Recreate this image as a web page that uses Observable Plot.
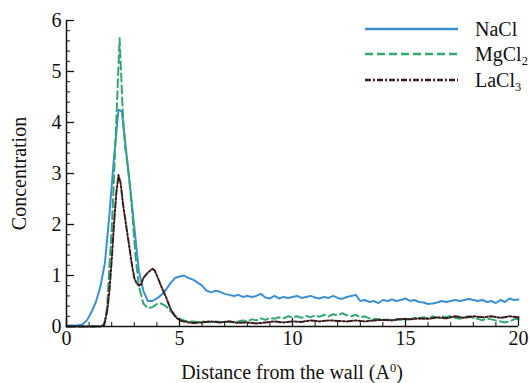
<!DOCTYPE html>
<html>
<head>
<meta charset="utf-8">
<script src="https://cdn.jsdelivr.net/npm/d3@7"></script>
<script src="https://cdn.jsdelivr.net/npm/@observablehq/plot@0.6"></script>
<style>
  body { margin: 0; background: #fff; font-family: "Liberation Serif", "Times New Roman", serif; color: #111; }
  #wrap { position: relative; width: 529px; height: 383px; overflow: hidden; }
  #xtitle { margin-left: 66px; width: 452px; text-align: center; font-size: 20px; line-height: 24px; margin-top: 8px; }
  #xtitle sup { font-size: 0.62em; vertical-align: 0.55em; line-height: 0; }
  #legend { position: absolute; left: 365px; top: 16px; font-size: 20px; }
  .row { display: flex; align-items: center; height: 25.5px; }
  .row span { margin-left: 17px; line-height: 20px; }
  .row sub { font-size: 0.62em; vertical-align: -0.3em; line-height: 0; }
</style>
</head>
<body>
<div id="wrap"></div>
<script>
// ---- data ----
const naclX = [0,0.4,0.7,0.9,1.1,1.3,1.5,1.7,1.9,2.1,2.3,2.45,2.6,2.8,3.0,3.2,3.4,3.6,3.8,4.0,4.2,4.4,4.6,4.8,5.0,5.2,5.4,5.6,5.8,6.0,6.2,6.4,6.6,6.8,7.0,7.2,7.4,7.6,7.8,8.0,8.2,8.4,8.6,8.8,9.0,9.2,9.4,9.6,9.8,10.0,10.2,10.4,10.6,10.8,11.0,11.2,11.4,11.6,11.8,12.0,12.2,12.4,12.6,12.8,13.0,13.2,13.4,13.6,13.8,14.0,14.2,14.4,14.6,14.8,15.0,15.2,15.4,15.6,15.8,16.0,16.2,16.4,16.6,16.8,17.0,17.2,17.4,17.6,17.8,18.0,18.2,18.4,18.6,18.8,19.0,19.2,19.4,19.6,19.8,20.0];
const naclY = [0.02,0.02,0.04,0.12,0.28,0.48,0.78,1.25,2.2,3.3,4.25,4.22,3.6,2.8,1.95,1.1,0.7,0.5,0.5,0.55,0.62,0.72,0.85,0.95,0.98,1.0,0.95,0.92,0.86,0.8,0.7,0.67,0.7,0.68,0.64,0.62,0.6,0.62,0.58,0.6,0.58,0.6,0.64,0.57,0.55,0.6,0.55,0.58,0.56,0.58,0.6,0.56,0.58,0.6,0.57,0.55,0.58,0.56,0.6,0.56,0.54,0.58,0.6,0.62,0.5,0.52,0.48,0.5,0.46,0.52,0.5,0.53,0.5,0.52,0.55,0.5,0.52,0.48,0.47,0.44,0.45,0.47,0.5,0.48,0.5,0.52,0.5,0.52,0.54,0.52,0.5,0.52,0.48,0.5,0.46,0.52,0.48,0.55,0.52,0.53];

const mgX = [0,0.5,1.0,1.5,1.7,1.8,1.9,2.0,2.1,2.2,2.35,2.5,2.6,2.75,2.9,3.05,3.2,3.4,3.6,3.8,4.0,4.2,4.4,4.6,4.8,5.0,5.2,5.4,5.6,5.8,6.0,6.2,6.4,6.6,6.8,7.0,7.2,7.4,7.6,7.8,8.0,8.2,8.4,8.6,8.8,9.0,9.2,9.4,9.6,9.8,10.0,10.2,10.4,10.6,10.8,11.0,11.2,11.4,11.6,11.8,12.0,12.2,12.4,12.6,12.8,13.0,13.2,13.4,13.6,13.8,14.0,14.2,14.4,14.6,14.8,15.0,15.2,15.4,15.6,15.8,16.0,16.2,16.4,16.6,16.8,17.0,17.2,17.4,17.6,17.8,18.0,18.2,18.4,18.6,18.8,19.0,19.2,19.4,19.6,19.8,20.0];
const mgY = [0,0,0,0.01,0.05,0.4,1.2,1.9,2.9,4.0,5.65,4.1,3.5,3.0,2.3,1.4,0.8,0.45,0.36,0.38,0.44,0.45,0.4,0.3,0.22,0.15,0.12,0.1,0.1,0.09,0.1,0.09,0.08,0.1,0.09,0.08,0.1,0.08,0.1,0.12,0.1,0.14,0.12,0.16,0.13,0.17,0.15,0.18,0.16,0.2,0.18,0.2,0.17,0.21,0.18,0.22,0.19,0.23,0.2,0.24,0.22,0.26,0.22,0.2,0.23,0.18,0.2,0.16,0.14,0.15,0.12,0.14,0.12,0.15,0.13,0.16,0.14,0.17,0.15,0.18,0.16,0.2,0.17,0.2,0.18,0.21,0.17,0.15,0.18,0.2,0.17,0.15,0.12,0.16,0.14,0.12,0.1,0.08,0.1,0.14,0.15];

const laX = [0,0.5,1.0,1.5,1.65,1.8,1.9,2.0,2.1,2.2,2.3,2.4,2.5,2.6,2.7,2.8,2.9,3.0,3.1,3.2,3.3,3.4,3.6,3.8,3.9,4.0,4.2,4.4,4.6,4.8,5.0,5.2,5.4,5.6,6.0,6.4,6.8,7.2,7.6,8.0,8.4,8.8,9.2,9.6,10.0,10.4,10.8,11.2,11.6,12.0,12.4,12.8,13.2,13.6,14.0,14.4,14.8,15.2,15.6,16.0,16.4,16.8,17.2,17.6,18.0,18.4,18.8,19.2,19.6,20.0];
const laY = [0,0,0,0,0.02,0.3,0.7,1.3,2.0,2.6,2.97,2.8,2.4,2.1,1.8,1.5,1.2,0.95,0.85,0.8,0.82,0.95,1.06,1.13,1.1,1.0,0.78,0.58,0.35,0.2,0.12,0.1,0.08,0.07,0.08,0.1,0.08,0.1,0.07,0.08,0.06,0.08,0.1,0.08,0.1,0.09,0.12,0.1,0.12,0.11,0.1,0.12,0.1,0.12,0.13,0.12,0.15,0.14,0.16,0.15,0.18,0.16,0.2,0.17,0.2,0.18,0.2,0.17,0.2,0.18];

const seriesNames = ["NaCl", "MgCl₂", "LaCl₃"];
const seriesLabelsHTML = ["NaCl", "MgCl<sub>2</sub>", "LaCl<sub>3</sub>"];
const seriesColors = ["#3d8fd2", "#34a673", "#3a1c1c"];
const seriesDash = [null, "8,4", "6,2,2,2"];

const xMajor = [0, 5, 10, 15, 20];
const xMinor = d3.range(0, 21, 1);
const yMajor = [0, 1, 2, 3, 4, 5, 6];
const yMinor = d3.range(0, 6.0001, 0.2).map(v => +v.toFixed(1));

// ---- build ----
const toRows = (xs, ys, name) => xs.map((x, i) => ({x, y: ys[i], name}));
const datasets = [toRows(naclX, naclY, seriesNames[0]), toRows(mgX, mgY, seriesNames[1]), toRows(laX, laY, seriesNames[2])];

const plot = Plot.plot({
  width: 529,
  height: 352,
  marginLeft: 66,
  marginRight: 11,
  marginTop: 20,
  marginBottom: 26,
  style: { fontFamily: "Liberation Serif, Times New Roman, serif", fontSize: "20px", color: "#111", background: "#fff" },
  x: { domain: [0, 20] },
  y: { domain: [0, 6] },
  marks: [
    ...datasets.map((d, i) => Plot.line(d, {
      x: "x", y: "y", stroke: seriesColors[i], strokeWidth: 2,
      strokeDasharray: seriesDash[i] ?? undefined, strokeLinejoin: "round"
    })),
    Plot.ruleX([0], { stroke: "#111", strokeWidth: 1.5 }),
    Plot.ruleY([0], { stroke: "#111", strokeWidth: 1.5 }),
    Plot.axisY(yMinor, { tickSize: -4, tickFormat: () => "", label: null, stroke: "#111" }),
    Plot.axisY(yMajor, { tickSize: -8, tickFormat: () => "", label: null, stroke: "#111", strokeWidth: 1.3 }),
    Plot.axisY(yMajor, { tickSize: 0, tickPadding: 5, tickFormat: d => String(d), label: "Concentration", labelAnchor: "center", labelArrow: "none", labelOffset: 55 }),
    Plot.axisX(xMinor, { tickSize: -4, tickFormat: () => "", label: null, stroke: "#111" }),
    Plot.axisX(xMajor, { tickSize: -8, tickFormat: () => "", label: null, stroke: "#111", strokeWidth: 1.3 }),
    Plot.axisX(xMajor, { tickSize: 0, tickPadding: 4, tickFormat: d => String(d), label: null })
  ]
});

const wrap = document.getElementById("wrap");
wrap.appendChild(plot);

const title = document.createElement("div");
title.id = "xtitle";
title.innerHTML = "Distance from the wall (A<sup>0</sup>)";
wrap.appendChild(title);

const legend = document.createElement("div");
legend.id = "legend";
seriesNames.forEach((n, i) => {
  const row = document.createElement("div");
  row.className = "row";
  const svg = d3.create("svg").attr("width", 93).attr("height", 10);
  svg.append("line").attr("x1", 0).attr("x2", 93).attr("y1", 5).attr("y2", 5)
    .attr("stroke", seriesColors[i]).attr("stroke-width", 2.5)
    .attr("stroke-dasharray", seriesDash[i]);
  row.appendChild(svg.node());
  const s = document.createElement("span");
  s.innerHTML = seriesLabelsHTML[i];
  row.appendChild(s);
  legend.appendChild(row);
});
wrap.appendChild(legend);
</script>
</body>
</html>
